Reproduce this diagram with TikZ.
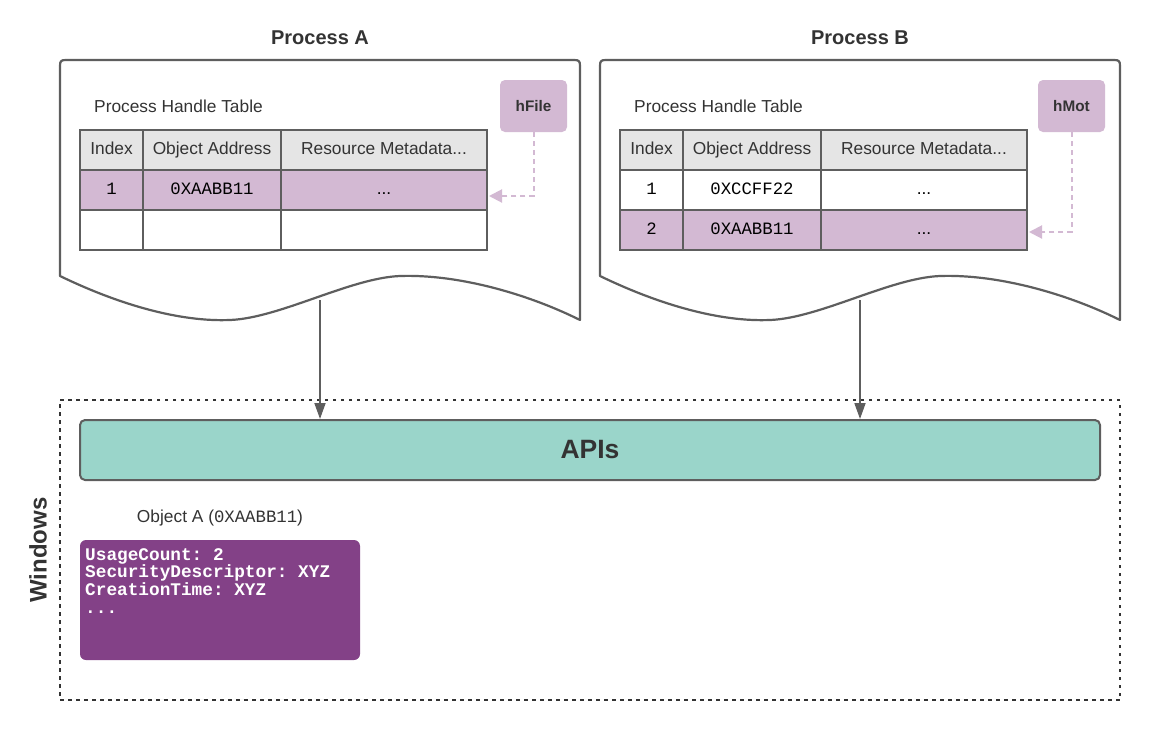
\documentclass[tikz,border=0pt]{standalone}
\usepackage{fontspec}
\setmainfont{Liberation Sans}
\setmonofont{Liberation Mono}
\usetikzlibrary{arrows.meta}
\definecolor{lc}{HTML}{5E5E5E}
\definecolor{txt}{HTML}{333333}
\definecolor{lp}{HTML}{D3B9D3}
\definecolor{hdr}{HTML}{E5E5E5}
\definecolor{apiteal}{HTML}{9AD5CA}
\definecolor{objp}{HTML}{834187}
\newcommand\myfs{\fontsize{17.33}{20}\selectfont}
\tikzset{
  docline/.style={draw=lc, line width=2.2pt, fill=white, line join=round},
  cell/.style={draw=lc, line width=2.2pt, minimum height=40pt, inner sep=0pt, outer sep=0pt, font=\myfs, text=black, text height=12.6pt, text depth=3.6pt},
  hdrcell/.style={cell, fill=hdr, text=txt},
  selcell/.style={cell, fill=lp},
  handlebox/.style={fill=lp, rounded corners=5pt, minimum width=67pt, minimum height=52pt, inner sep=0pt, font=\fontsize{15.3}{18}\selectfont\bfseries, text=txt},
  hdash/.style={draw=lp, line width=2pt, dash pattern=on 5pt off 4pt, -{Triangle[length=13pt,width=13pt,fill=lp]}},
  garrow/.style={draw=lc, line width=1.8pt, -{Triangle[length=16pt,width=11pt]}},
  title/.style={font=\fontsize{20}{24}\selectfont\bfseries, text=txt},
  lbl/.style={font=\myfs, text=txt, inner sep=0pt},
}
\begin{document}
\begin{tikzpicture}[x=1pt,y=-1pt]
\useasboundingbox (0,0) rectangle (1160,740);
% Windows box
\node[draw=txt, line width=1.5pt, dash pattern=on 3.5pt off 4.5pt, minimum width=1060pt, minimum height=300pt, inner sep=0pt] (win) at (590,550) {};
\node[font=\fontsize{24}{28}\selectfont\bfseries, text=txt, rotate=90] (winlbl) at (38,550) {Windows};
% APIs
\node[draw=lc, line width=2pt, fill=apiteal, rounded corners=5pt, minimum width=1020pt, minimum height=60pt, inner sep=0pt, font=\fontsize{26.5}{30}\selectfont\bfseries, text=txt] (api) at (590,450) {APIs};
% Object A
\node[lbl] (objlbl) at (220,518) {Object A (\texttt{0XAABB11})};
\node[fill=objp, rounded corners=6pt, minimum width=280pt, minimum height=120pt, inner sep=0pt] (obj) at (220,600) {};
\node[anchor=north west, inner sep=0pt, align=left, text=white, font=\fontsize{17.75}{17.8}\selectfont\ttfamily\bfseries] (objtxt) at (85,548) {UsageCount: 2\\SecurityDescriptor: XYZ\\CreationTime: XYZ\\...};
% Process A and B
\foreach \s/\n in {0/A,540/B}{
\begin{scope}[xshift=\s pt]
\draw[docline] (60,276) -- (60,66) .. controls (60,61) and (61,60) .. (66,60) -- (574,60) .. controls (579,60) and (580,61) .. (580,66) -- (580,320) .. controls (530,295) and (460,274) .. (400,276) .. controls (350,278) and (280,318) .. (230,320) .. controls (180,322) and (120,305) .. (60,276) -- cycle;
\coordinate (doc\n bot) at (320,300);
\node[title] (title\n) at (320,38) {Process \n};
\node[lbl, anchor=west] (pht\n) at (94,106) {Process Handle Table};
\end{scope}
}
% Table A
\node[hdrcell, minimum width=63pt] (a11) at (111.5,150) {Index};
\node[hdrcell, minimum width=138pt] (a12) at (212,150) {Object Address};
\node[hdrcell, minimum width=206pt] (a13) at (384,150) {Resource Metadata...};
\node[selcell, minimum width=63pt, font=\myfs\ttfamily] (a21) at (111.5,190) {1};
\node[selcell, minimum width=138pt, font=\myfs\ttfamily] (a22) at (212,190) {0XAABB11};
\node[selcell, minimum width=206pt] (a23) at (384,190) {...};
\node[cell, minimum width=63pt] (a31) at (111.5,230) {};
\node[cell, minimum width=138pt] (a32) at (212,230) {};
\node[cell, minimum width=206pt] (a33) at (384,230) {};
% Table B
\node[hdrcell, minimum width=63pt] (b11) at (651.5,150) {Index};
\node[hdrcell, minimum width=138pt] (b12) at (752,150) {Object Address};
\node[hdrcell, minimum width=206pt] (b13) at (924,150) {Resource Metadata...};
\node[cell, minimum width=63pt, font=\myfs\ttfamily] (b21) at (651.5,190) {1};
\node[cell, minimum width=138pt, font=\myfs\ttfamily] (b22) at (752,190) {0XCCFF22};
\node[cell, minimum width=206pt] (b23) at (924,190) {...};
\node[selcell, minimum width=63pt, font=\myfs\ttfamily] (b31) at (651.5,230) {2};
\node[selcell, minimum width=138pt, font=\myfs\ttfamily] (b32) at (752,230) {0XAABB11};
\node[selcell, minimum width=206pt] (b33) at (924,230) {...};
% handles
\node[handlebox] (hFile) at (533.5,106) {hFile};
\node[handlebox] (hMot) at (1071.5,106) {hMot};
\draw[hdash] (hFile.south) |- ([yshift=-6pt,xshift=2pt]a23.east);
\draw[hdash] (hMot.south) |- ([yshift=-2pt,xshift=2pt]b33.east);
% arrows to APIs
\draw[garrow] (docAbot) -- (api.north -| docAbot);
\draw[garrow] (docBbot) -- (api.north -| docBbot);
\end{tikzpicture}
\end{document}
